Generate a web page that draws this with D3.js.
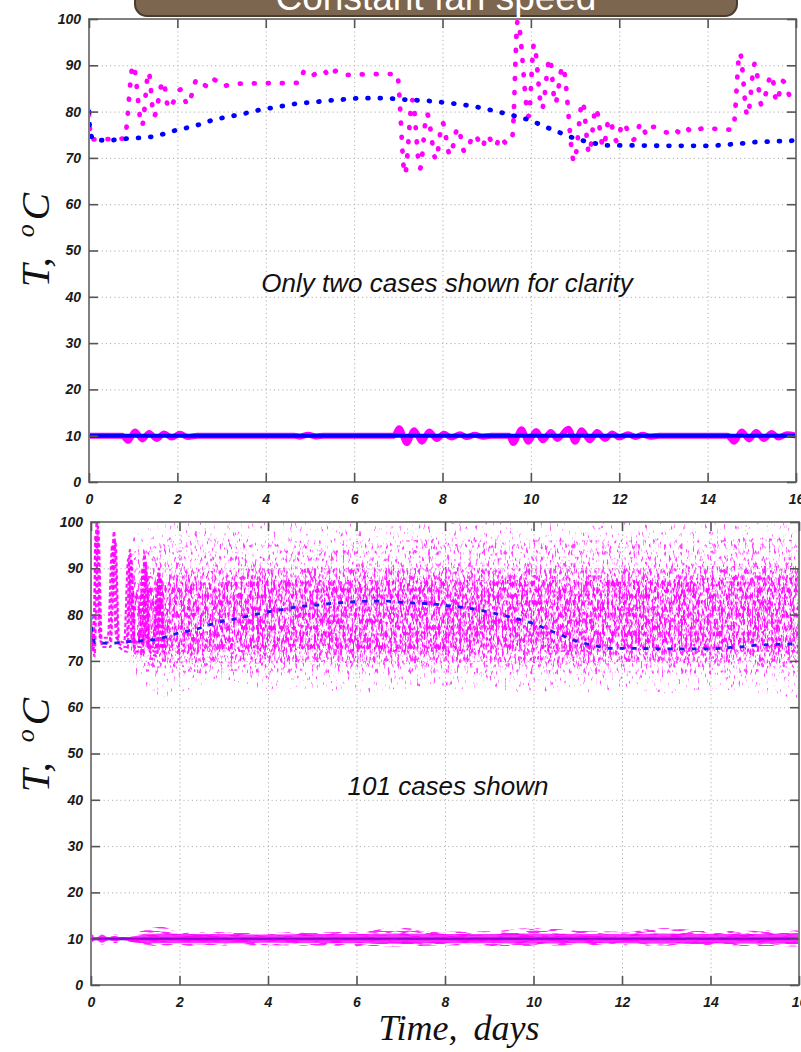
<!DOCTYPE html>
<html><head><meta charset="utf-8">
<script src="https://cdn.jsdelivr.net/npm/d3@7"></script>
<style>
html,body{margin:0;padding:0;background:#fff;}
svg{display:block;}
.axis .tick text{font-family:"Liberation Sans",Arial,sans-serif;font-weight:bold;font-style:italic;font-size:14px;fill:#1a1a1a;}
.axis .tick line{stroke:#555;stroke-width:1.6;}
.grid .tick line{stroke:#b0b0b0;stroke-width:1;stroke-dasharray:1.2 3;}
</style></head><body>
<svg id="chart" width="801" height="1052"></svg>
<script>
// ---------- axis ticks ----------
const dayTicks = [0, 2, 4, 6, 8, 10, 12, 14, 16];
const tempTicks = [0, 10, 20, 30, 40, 50, 60, 70, 80, 90, 100];

// ---------- two single cases (upper panel), [day, °C] ----------
const hotCaseBlue = [[0,80],[0.02,76.4],[0.1,73.9],[0.4,73.8],[0.9,74.2],[1.44,74.6],[1.7,75.2],[1.98,76.0],[2.26,76.6],[2.53,77.3],[2.81,78.2],[3.1,78.8],[3.38,79.3],[3.66,79.9],[3.93,80.5],[4.21,80.9],[4.49,81.4],[4.76,81.8],[5.05,82.0],[5.32,82.3],[5.87,82.7],[6.15,82.9],[6.7,82.9],[6.98,82.7],[7.28,82.5],[7.54,82.4],[7.81,82.2],[8.09,81.9],[8.37,81.6],[8.66,81.2],[8.92,80.7],[9.2,80.1],[9.46,79.5],[9.74,78.8],[10.02,78.0],[10.28,76.9],[10.57,75.8],[10.85,74.7],[11.11,73.9],[11.39,73.3],[11.66,72.7],[12.26,72.7],[13.09,72.6],[13.92,72.6],[14.2,72.7],[14.46,72.9],[14.75,73.1],[15.03,73.4],[15.31,73.5],[15.58,73.6],[15.88,73.7],[16,73.8]];

const hotCaseMagenta = [[0,79.5],[0.05,74],[0.8,74.2],[1.0,90],[1.2,77],[1.35,88.5],[1.47,79],[1.68,86.5],[1.8,80.7],[2.08,84.8],[2.23,81.5],[2.45,87],[2.69,85.4],[2.81,87],[3.0,85.5],[3.3,86],[3.9,86.1],[4.75,86.2],[4.88,88.8],[5.02,87.7],[5.15,88.3],[5.3,89],[5.45,87.5],[5.59,88.8],[5.79,87.9],[6.0,88],[6.97,88.1],[7.15,66.5],[7.32,82.5],[7.49,67.7],[7.65,79.5],[7.85,69.7],[8.0,77.6],[8.17,70.6],[8.35,76.5],[8.5,71.3],[8.73,75],[8.9,72.3],[9.0,74.9],[9.2,72.4],[9.3,74.6],[9.45,73.1],[9.58,74.6],[9.7,99.6],[9.95,79],[10.07,94.5],[10.25,80.6],[10.43,91.5],[10.55,81.8],[10.72,89.7],[10.98,69.2],[11.17,82.1],[11.32,71.0],[11.47,80.7],[11.64,72.4],[11.77,78.3],[11.95,73.5],[12.08,77.5],[12.32,73.9],[12.5,77.5],[12.62,75],[12.77,76.7],[13.07,75.5],[13.2,76.4],[13.4,75.3],[13.52,76.4],[13.65,75.5],[13.9,76.4],[14.5,76.1],[14.58,76.5],[14.73,92.7],[14.9,79.1],[15.07,90.4],[15.22,81.4],[15.45,87.9],[15.56,82.1],[15.7,86.6],[15.9,82.9],[16,83.5]];

const coldCaseBlue = [[0,10],[16,10]];

const coldCaseMagenta = [[0,10],[0.75,10],[0.89,8.9],[1.04,10.9],[1.21,9.2],[1.36,10.6],[1.53,9.3],[1.7,10.5],[1.87,9.6],[2.06,10.4],[2.24,9.7],[2.45,10],[4.65,10],[4.77,9.8],[4.96,10.2],[5.15,9.85],[5.3,10],[6.9,10],[7.02,11.6],[7.19,8.4],[7.36,11.2],[7.53,8.7],[7.7,10.9],[7.87,9.3],[8.03,10.4],[8.2,9.6],[8.4,10.3],[8.55,9.7],[8.73,10.2],[8.9,9.8],[9.1,10],[9.5,10],[9.6,8.4],[9.79,11.4],[9.94,8.7],[10.12,11.0],[10.27,9.0],[10.45,10.8],[10.6,9.3],[10.85,11.5],[11.0,8.7],[11.15,11.2],[11.33,9.0],[11.5,10.8],[11.68,9.3],[11.84,10.5],[12.0,9.6],[12.2,10.3],[12.37,9.7],[12.53,10.2],[12.7,9.8],[12.9,10],[14.45,10],[14.6,8.7],[14.77,10.9],[14.94,9.2],[15.1,10.8],[15.27,9.3],[15.45,10.6],[15.6,9.6],[15.8,10.3],[16,10]];

// ---------- 101-case ensemble (lower panel) ----------
// hot ensemble envelopes, from the outermost stray points to the dense core
const ensDays    = [0.9, 1.5, 2, 3, 4, 5, 6, 7, 8, 9, 10, 11, 12, 13, 14, 15, 16];
const sparseLow  = [69, 62, 63, 66, 64, 64, 63, 64, 64, 64, 63, 63, 64, 63, 64, 63, 62];
const sparseHigh = [96, 100, 100, 100, 100, 100, 100, 100, 100, 100, 100, 100, 100, 100, 100, 100, 100];
const midLow     = [70, 67, 67, 68, 67, 67.5, 67, 67, 67.5, 67, 67, 67, 67.5, 67, 67, 67, 66.5];
const midHigh    = [93, 95, 96, 96, 95.5, 96, 96, 96, 96.5, 96, 96, 96, 96, 96, 96, 96.5, 96];
const denseLow   = [71, 70, 69.5, 69.5, 69.5, 69.8, 69.5, 69.5, 69.5, 69.8, 69.5, 69.5, 69.8, 69.5, 69.5, 69.5, 69.5];
const denseHigh  = [88, 88.5, 89, 89.5, 90, 90, 90, 90, 90.3, 90, 90, 90, 90, 90, 90.5, 90.5, 90.5];
const coreLow    = [73, 72.5, 72, 72, 72, 72.5, 72, 72, 72, 72.5, 72, 72, 72.5, 72, 72, 72, 72];
const coreHigh   = [85, 86, 87, 87, 87.5, 87.5, 87.5, 87.5, 87.5, 87.5, 87.5, 87.5, 87.5, 87.5, 88, 88, 88];

// early, still-synchronised oscillations of the ensemble
const syncA = [[0,76],[0.05,72],[0.13,100],[0.22,74],[0.42,74],[0.52,98],[0.61,74],[0.8,73],[0.88,94],[0.97,73],[1.14,73],[1.21,93],[1.3,73],[1.46,72],[1.53,90],[1.62,72]];
const syncB = [[0,80],[0.08,71],[0.16,99],[0.25,73],[0.44,73],[0.55,96],[0.64,73],[0.82,72],[0.91,92],[1.0,72],[1.17,72],[1.24,91],[1.33,72],[1.49,71],[1.57,88],[1.66,71]];
const syncC = [[0,78],[0.06,73],[0.1,97],[0.2,75],[0.38,75],[0.48,95],[0.57,75],[0.75,74],[0.84,92],[0.93,74],[1.09,74],[1.17,90],[1.26,74],[1.41,73],[1.5,87],[1.58,73]];

// cold ensemble envelopes
const coldDays  = [0, 0.12, 0.25, 0.4, 0.55, 0.7, 1.0, 1.6, 2, 3, 4, 5, 6, 6.9, 8, 9, 10, 11, 12, 12.9, 14, 15, 16];
const coldHigh  = [11.4, 10.3, 11.5, 10.3, 11.0, 10.3, 11.3, 12.6, 11.5, 11.4, 11.3, 11.5, 11.4, 12.4, 11.5, 11.6, 12.3, 11.8, 11.5, 12.3, 11.6, 11.7, 12.0];
const coldLow   = [8.4, 9.6, 8.6, 9.7, 9.0, 9.7, 8.8, 8.4, 8.5, 8.5, 8.6, 8.5, 8.4, 8.3, 8.6, 8.4, 8.5, 8.6, 8.4, 8.5, 8.5, 8.3, 8.3];
const coldCoreHigh = [10.9, 10.2, 10.9, 10.2, 10.6, 10.2, 10.6, 11.1, 11.0, 11.0, 10.9, 11.0, 11.0, 11.1, 11.0, 11.0, 11.1, 11.0, 11.0, 11.1, 11.0, 11.0, 11.1];
const coldCoreLow  = [9.0, 9.8, 9.1, 9.8, 9.4, 9.8, 9.2, 9.0, 9.0, 9.0, 9.1, 9.0, 9.0, 8.9, 9.0, 9.0, 8.9, 9.0, 9.0, 8.9, 9.0, 8.9, 8.9];

// ---------- drawing ----------
const svg = d3.select("#chart");
const defs = svg.append("defs");

// speckle texture used to render the dense ensemble clouds
function speckle(id, fx, fy, cutoff, seed, tint) {
  const f = defs.append("filter").attr("id", id)
    .attr("filterUnits", "userSpaceOnUse")
    .attr("x", 0).attr("y", 0).attr("width", 801).attr("height", 1052)
    .attr("color-interpolation-filters", "sRGB");
  f.append("feTurbulence").attr("type", "fractalNoise")
    .attr("baseFrequency", fx + " " + fy).attr("numOctaves", 2)
    .attr("seed", seed).attr("result", "noise");
  f.append("feColorMatrix").attr("in", "noise").attr("type", "matrix")
    .attr("values", `0 0 0 0 ${tint[0]}  0 0 0 0 ${tint[1]}  0 0 0 0 ${tint[2]}  1 0 0 0 0`)
    .attr("result", "tinted");
  f.append("feComponentTransfer").attr("in", "tinted").attr("result", "dots")
    .append("feFuncA").attr("type", "linear").attr("slope", 7).attr("intercept", -7 * cutoff);
  f.append("feComposite").attr("in", "dots").attr("in2", "SourceGraphic").attr("operator", "in");
}
speckle("sparseCloud", 0.42, 0.16, 0.64, 4, [1, 0.3, 1]);
speckle("midCloud", 0.42, 0.16, 0.59, 11, [1, 0.25, 1]);
speckle("denseCloud", 0.42, 0.16, 0.53, 9, [1, 0.15, 1]);
speckle("coreCloud", 0.42, 0.16, 0.50, 17, [1, 0.05, 1]);
speckle("coldCloud", 0.07, 0.45, 0.50, 23, [1, 0.15, 1]);

// title tab
svg.append("rect").attr("x", 135).attr("y", -22).attr("width", 602).attr("height", 38)
  .attr("rx", 12).attr("fill", "#7c6650").attr("stroke", "#4a3c2f").attr("stroke-width", 2);
svg.append("text").attr("x", 436).attr("y", 10).attr("text-anchor", "middle")
  .attr("font-family", "'Liberation Sans', Arial, sans-serif").attr("font-size", 37)
  .attr("fill", "#fff").text("Constant fan speed");

function panel(box, id) {
  const x = d3.scaleLinear().domain([0, 16]).range([box.left, box.right]);
  const y = d3.scaleLinear().domain([0, 100]).range([box.bottom, box.top]);
  const w = box.right - box.left, h = box.bottom - box.top;
  const g = svg.append("g");

  defs.append("clipPath").attr("id", "clip" + id)
    .append("rect").attr("x", box.left).attr("y", box.top).attr("width", w).attr("height", h);

  // dotted grid
  g.append("g").attr("class", "grid").attr("transform", `translate(0,${box.bottom})`)
    .call(d3.axisBottom(x).tickValues(dayTicks.slice(1, -1)).tickSize(-h).tickFormat(""))
    .call(s => s.select(".domain").remove());
  g.append("g").attr("class", "grid").attr("transform", `translate(${box.left},0)`)
    .call(d3.axisLeft(y).tickValues(tempTicks.slice(1, -1)).tickSize(-w).tickFormat(""))
    .call(s => s.select(".domain").remove());

  const plot = g.append("g").attr("clip-path", `url(#clip${id})`);

  const axes = () => {
    const a = svg.append("g");
    a.append("rect").attr("x", box.left).attr("y", box.top).attr("width", w).attr("height", h)
      .attr("fill", "none").attr("stroke", "#808080").attr("stroke-width", 2);
    a.append("g").attr("class", "axis").attr("transform", `translate(0,${box.bottom})`)
      .call(d3.axisBottom(x).tickValues(dayTicks).tickSize(-9).tickPadding(12))
      .call(s => s.select(".domain").remove());
    a.append("g").attr("class", "axis").attr("transform", `translate(0,${box.top})`)
      .call(d3.axisTop(x).tickValues(dayTicks).tickSize(-9).tickFormat(""))
      .call(s => s.select(".domain").remove());
    a.append("g").attr("class", "axis").attr("transform", `translate(${box.left},0)`)
      .call(d3.axisLeft(y).tickValues(tempTicks).tickSize(-9).tickPadding(8))
      .call(s => s.select(".domain").remove());
    a.append("g").attr("class", "axis").attr("transform", `translate(${box.right},0)`)
      .call(d3.axisRight(y).tickValues(tempTicks).tickSize(-9).tickFormat(""))
      .call(s => s.select(".domain").remove());
  };
  return { x, y, plot, axes };
}

function yLabel(cy) {
  const t = svg.append("text")
    .attr("transform", `translate(49,${cy}) rotate(-90)`)
    .attr("text-anchor", "middle")
    .attr("font-family", "'Liberation Serif', 'DejaVu Serif', serif")
    .attr("font-style", "italic").attr("font-size", 41).attr("fill", "#111");
  t.append("tspan").text("T,");
  t.append("tspan").attr("dx", 20).attr("dy", -15).attr("font-size", 26).text("o");
  t.append("tspan").attr("dx", 4).attr("dy", 15).text("C");
}

// ---------- upper panel: two cases ----------
const upper = panel({ left: 89, right: 796, top: 19, bottom: 482 }, "Upper");
const lineU = d3.line().x(d => upper.x(d[0])).y(d => upper.y(d[1])).curve(d3.curveMonotoneX);

upper.plot.append("path").datum(coldCaseMagenta).attr("d", lineU)
  .attr("fill", "none").attr("stroke", "#ff00ff").attr("stroke-width", 6).attr("stroke-linejoin", "round");
upper.plot.append("path").datum(coldCaseBlue).attr("d", lineU)
  .attr("fill", "none").attr("stroke", "#0000ff").attr("stroke-width", 4);
upper.plot.append("path").datum(hotCaseMagenta).attr("d", lineU)
  .attr("fill", "none").attr("stroke", "#ff00ff").attr("stroke-width", 4.8)
  .attr("stroke-linecap", "round").attr("stroke-dasharray", "0.8 13.2");
upper.plot.append("path").datum(hotCaseBlue).attr("d", lineU)
  .attr("fill", "none").attr("stroke", "#0000ff").attr("stroke-width", 4.8)
  .attr("stroke-linecap", "round").attr("stroke-dasharray", "0.8 11.5");
upper.axes();

svg.append("text").attr("x", 447).attr("y", 292).attr("text-anchor", "middle")
  .attr("font-family", "'Liberation Sans', Arial, sans-serif").attr("font-style", "italic")
  .attr("font-size", 26).attr("fill", "#111").text("Only two cases shown for clarity");
yLabel(240);

// ---------- lower panel: 101 cases ----------
const lower = panel({ left: 91, right: 799, top: 522, bottom: 985 }, "Lower");
const lineL = d3.line().x(d => lower.x(d[0])).y(d => lower.y(d[1])).curve(d3.curveMonotoneX);
const band = (days, lo, hi) => d3.area()
  .x((d, i) => lower.x(days[i])).y0((d, i) => lower.y(lo[i])).y1((d, i) => lower.y(hi[i]))
  .curve(d3.curveMonotoneX)(days);

[[sparseLow, sparseHigh, "sparseCloud"], [midLow, midHigh, "midCloud"],
 [denseLow, denseHigh, "denseCloud"], [coreLow, coreHigh, "coreCloud"]].forEach(([lo, hi, f]) => {
  lower.plot.append("path").attr("d", band(ensDays, lo, hi))
    .attr("fill", "#000").attr("filter", `url(#${f})`);
});

[syncA, syncB, syncC].forEach(s => {
  lower.plot.append("path").datum(s).attr("d", lineL)
    .attr("fill", "none").attr("stroke", "#ff00ff").attr("stroke-width", 2.2)
    .attr("stroke-opacity", 0.9).attr("stroke-dasharray", "4 2.5");
});

lower.plot.append("path").datum(hotCaseBlue).attr("d", lineL)
  .attr("fill", "none").attr("stroke", "#1a1ae6").attr("stroke-width", 2.8)
  .attr("stroke-dasharray", "5 7");

lower.plot.append("path").datum(coldCaseBlue).attr("d", lineL)
  .attr("fill", "none").attr("stroke", "#0000ff").attr("stroke-width", 3);
lower.plot.append("path").attr("d", band(coldDays, coldLow, coldHigh))
  .attr("fill", "#000").attr("filter", "url(#coldCloud)");
lower.plot.append("path").attr("d", band(coldDays, coldCoreLow, coldCoreHigh))
  .attr("fill", "#ff00ff").attr("fill-opacity", 0.8);
lower.plot.append("path").datum(coldCaseBlue).attr("d", lineL)
  .attr("fill", "none").attr("stroke", "#8a00c8").attr("stroke-width", 1.6).attr("stroke-opacity", 0.9);
lower.axes();

svg.append("text").attr("x", 448).attr("y", 795).attr("text-anchor", "middle")
  .attr("font-family", "'Liberation Sans', Arial, sans-serif").attr("font-style", "italic")
  .attr("font-size", 26).attr("fill", "#111").text("101 cases shown");
yLabel(745);

const xl = svg.append("text").attr("x", 459).attr("y", 1040).attr("text-anchor", "middle")
  .attr("font-family", "'Liberation Serif', 'DejaVu Serif', serif").attr("font-style", "italic")
  .attr("font-size", 36).attr("fill", "#111");
xl.append("tspan").text("Time,");
xl.append("tspan").attr("dx", 16).text("days");
</script></body></html>
